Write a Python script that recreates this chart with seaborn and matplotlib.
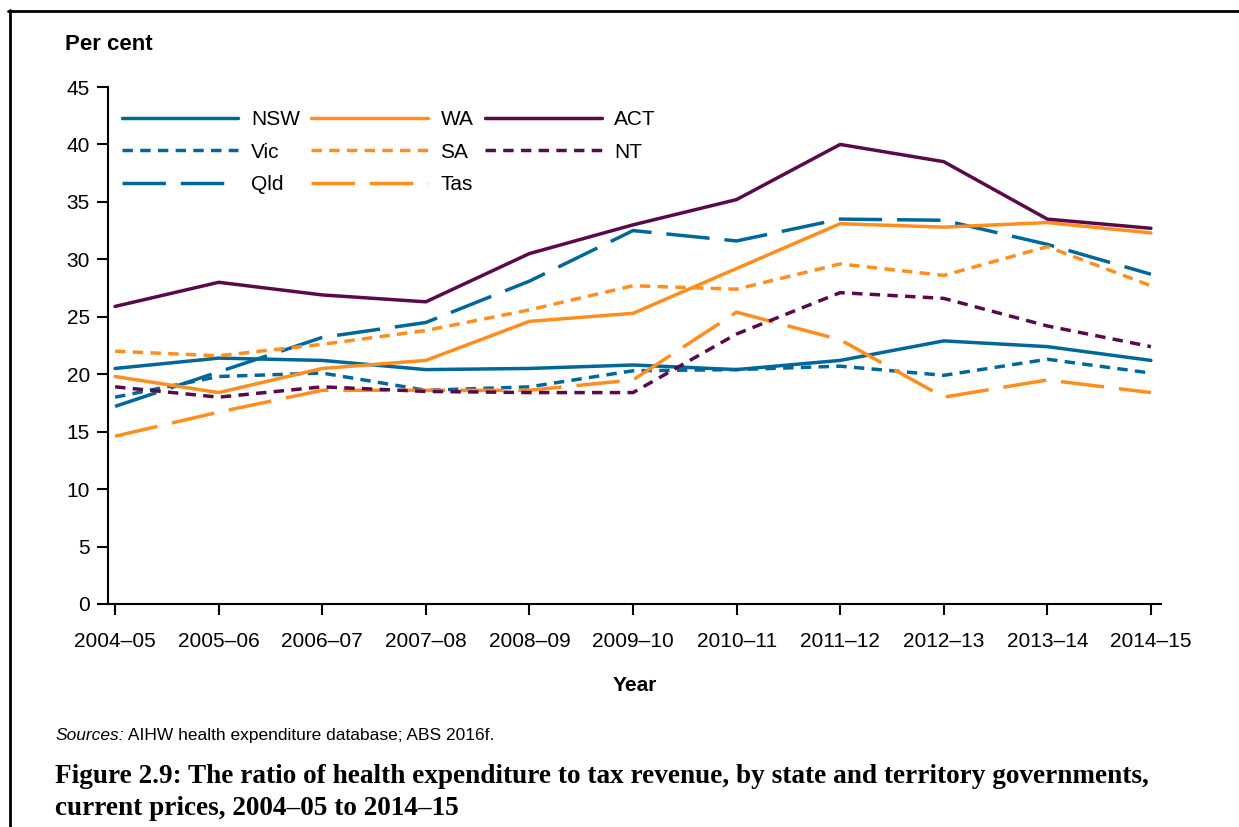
"""
Ratio of health expenditure to tax revenue, by state and territory governments.
"""
import matplotlib
matplotlib.use('Agg')
import matplotlib.pyplot as plt
from matplotlib.lines import Line2D
import pandas as pd
import seaborn as sns

sns.set_style("white")
plt.rcParams['font.family'] = ['Liberation Sans', 'DejaVu Sans']
plt.rcParams['text.color'] = 'black'
plt.rcParams['axes.labelcolor'] = 'black'
plt.rcParams['xtick.color'] = 'black'
plt.rcParams['ytick.color'] = 'black'
plt.rcParams['axes.unicode_minus'] = False

# Data (per cent)
years = ['2004–05', '2005–06', '2006–07', '2007–08', '2008–09', '2009–10',
         '2010–11', '2011–12', '2012–13', '2013–14', '2014–15']
nsw = [20.5, 21.4, 21.2, 20.4, 20.5, 20.8, 20.4, 21.2, 22.9, 22.4, 21.2]
vic = [18.0, 19.8, 20.1, 18.6, 18.9, 20.3, 20.4, 20.7, 19.9, 21.3, 20.1]
qld = [17.2, 20.2, 23.2, 24.5, 28.1, 32.5, 31.6, 33.5, 33.4, 31.3, 28.7]
wa = [19.8, 18.4, 20.5, 21.2, 24.6, 25.3, 29.2, 33.1, 32.8, 33.2, 32.3]
sa = [22.0, 21.6, 22.6, 23.8, 25.6, 27.7, 27.4, 29.6, 28.6, 31.1, 27.7]
tas = [14.6, 16.7, 18.6, 18.6, 18.6, 19.5, 25.4, 23.0, 18.0, 19.5, 18.4]
act = [25.9, 28.0, 26.9, 26.3, 30.5, 33.0, 35.2, 40.0, 38.5, 33.5, 32.7]
nt = [18.9, 18.0, 18.9, 18.5, 18.4, 18.4, 23.5, 27.1, 26.6, 24.2, 22.4]

states = ['NSW', 'Vic', 'Qld', 'WA', 'SA', 'Tas', 'ACT', 'NT']
values = [nsw, vic, qld, wa, sa, tas, act, nt]

# Colours and line styles
BLUE = '#00679B'
ORANGE = '#FF8E1E'
PURPLE = '#5A0A4B'
SOLID = ''
SHORT = (3.0, 2.1)
LONG = (12.5, 4.3)
palette = {'NSW': BLUE, 'Vic': BLUE, 'Qld': BLUE,
           'WA': ORANGE, 'SA': ORANGE, 'Tas': ORANGE,
           'ACT': PURPLE, 'NT': PURPLE}
dashes = {'NSW': SOLID, 'Vic': SHORT, 'Qld': LONG,
          'WA': SOLID, 'SA': SHORT, 'Tas': LONG,
          'ACT': SOLID, 'NT': SHORT}

df = pd.DataFrame({
    'state': [s for s in states for _ in years],
    'x': [i for _ in states for i in range(len(years))],
    'value': [v for vals in values for v in vals],
})

fig = plt.figure(figsize=(12.39, 8.27), dpi=100)
ax = fig.add_axes([0.0872, 0.2697, 0.8498, 0.6251])

sns.lineplot(data=df, x='x', y='value', hue='state', style='state',
             hue_order=states, style_order=states, palette=palette,
             dashes=dashes, linewidth=2.5, legend=False, ax=ax)

ax.set_xlim(-0.068, 10.097)
ax.set_ylim(0, 45)
ax.set_xticks(range(len(years)))
ax.set_xticklabels(years)
ax.set_yticks(range(0, 46, 5))
ax.tick_params(axis='both', labelsize=15, length=8, width=1.5,
               color='black', labelcolor='black', direction='out',
               bottom=True, left=True)
ax.tick_params(axis='x', pad=12)
ax.tick_params(axis='y', pad=5)
ax.set_xlabel('')
ax.set_ylabel('')
for side in ['top', 'right']:
    ax.spines[side].set_visible(False)
for side in ['left', 'bottom']:
    ax.spines[side].set_color('black')
    ax.spines[side].set_linewidth(1.5)

# Legend (3 columns, column-major like the original)
handles = []
for s in states:
    d = dashes[s]
    h = Line2D([], [], color=palette[s], linewidth=2.5)
    if d:
        h.set_dashes(d)
    handles.append(h)
ax.legend(handles, states, ncol=3, loc='upper left',
          bbox_to_anchor=(0.013, 0.955), frameon=False, fontsize=15,
          handlelength=5.6, handletextpad=0.6, columnspacing=0.55,
          labelspacing=0.64, borderpad=0, borderaxespad=0)

# Text around the axes
fig.text(0.0525, 1 - 44 / 827, 'Per cent', fontsize=16, fontweight='bold', va='center')
fig.text(0.5125, 0.1705, 'Year', fontsize=15, fontweight='bold',
         va='center', ha='center')

renderer = fig.canvas.get_renderer()
src = fig.text(0.0444, 1 - 740 / 827, 'Sources:', fontsize=12.5,
               style='italic', va='baseline')
bb = src.get_window_extent(renderer=renderer)
fig.text(bb.x1 / fig.bbox.width, 1 - 740 / 827,
         ' AIHW health expenditure database; ABS 2016f.', fontsize=12.5,
         va='baseline')

title_font = dict(fontsize=19.6, fontweight='bold',
                  family=['Liberation Serif', 'DejaVu Serif'], va='baseline')
fig.text(0.0444, 1 - 783 / 827, 'Figure 2.9: The ratio of health expenditure to tax '
         'revenue, by state and territory governments,', **title_font)
fig.text(0.0444, 1 - 815 / 827, 'current prices, 2004–05 to 2014–15', **title_font)

# Frame lines (top and left edges)
fig.add_artist(Line2D([8 / 1239, 1], [1 - 10.5 / 827, 1 - 10.5 / 827],
                      transform=fig.transFigure, color='black', linewidth=2))
fig.add_artist(Line2D([9.5 / 1239, 9.5 / 1239], [0, 1 - 10 / 827],
                      transform=fig.transFigure, color='black', linewidth=2))

fig.savefig('out.png', dpi=100)
plt.close(fig)
